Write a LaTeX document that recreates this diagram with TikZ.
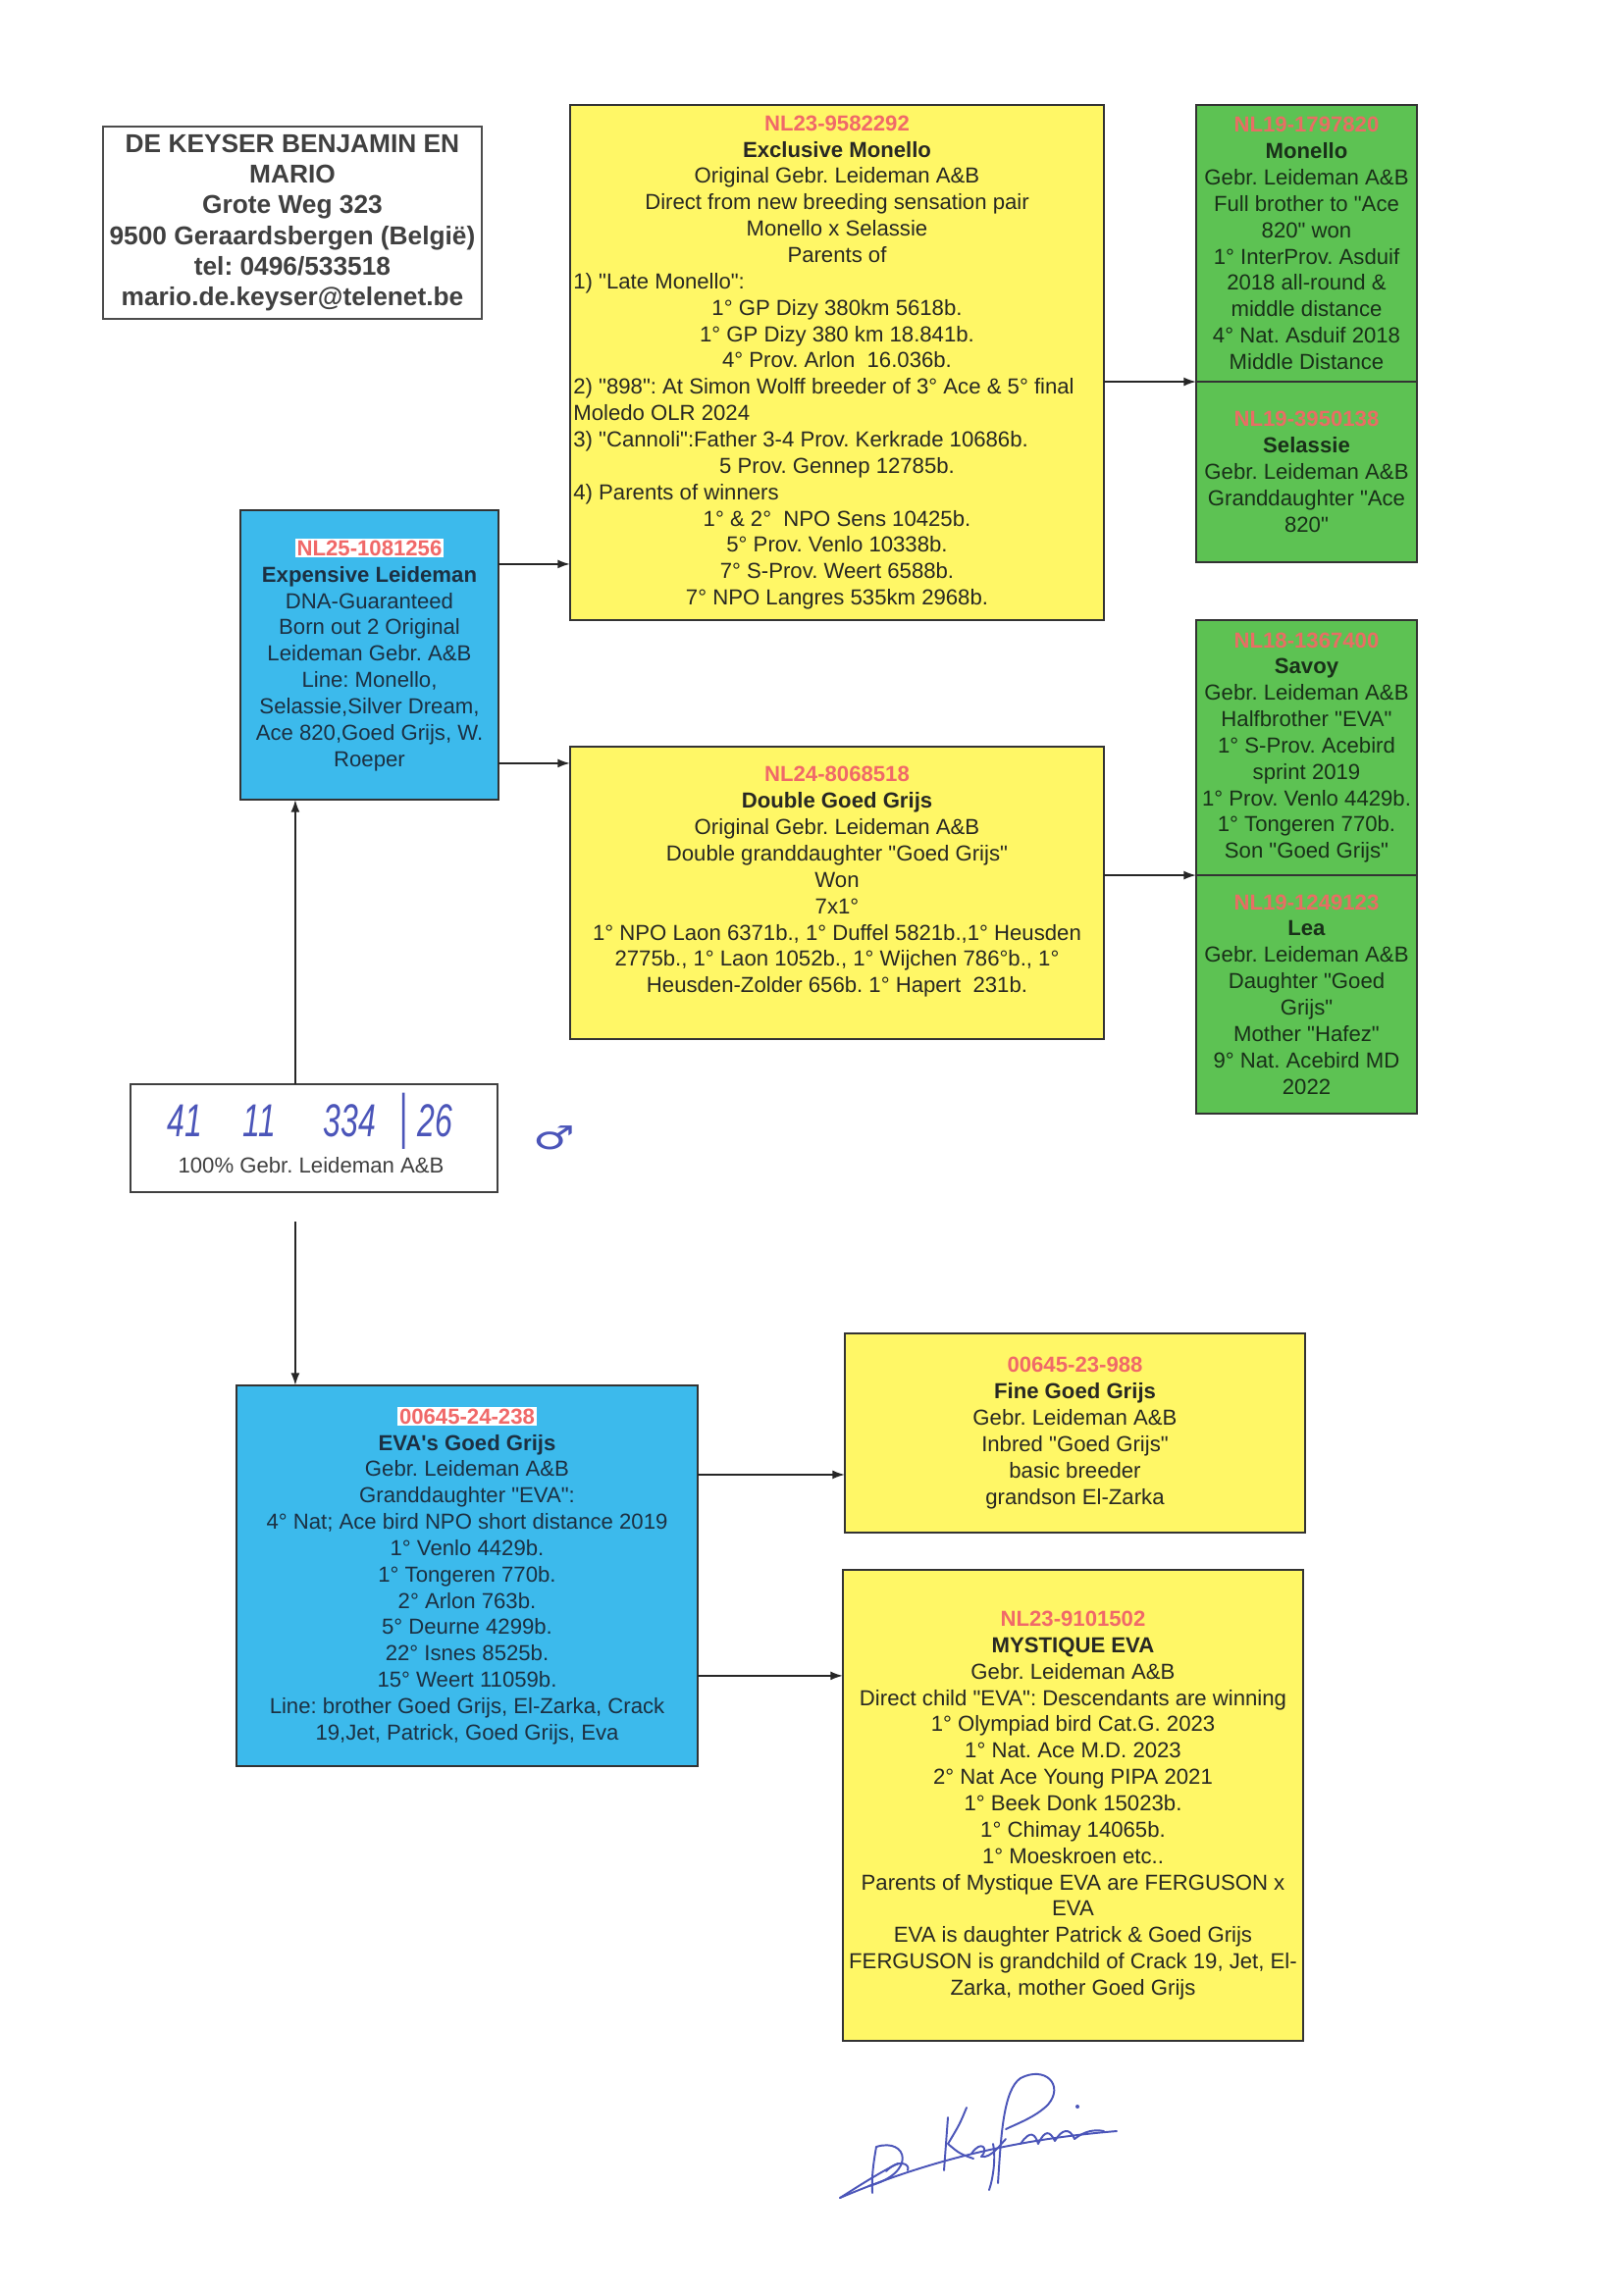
\documentclass[tikz,border=0pt]{standalone}
\usepackage{fontspec}
\setmainfont{Liberation Sans}[Ligatures=TeXOff]
\newfontfamily\dejavu{DejaVu Sans}
\usepackage{graphicx}
\usetikzlibrary{arrows.meta,calc}
\definecolor{ybox}{RGB}{255,247,102}
\definecolor{gbox}{RGB}{93,194,83}
\definecolor{bbox}{RGB}{60,186,236}
\definecolor{idred}{RGB}{240,105,105}
\definecolor{gidred}{RGB}{232,110,100}
\definecolor{txt}{RGB}{40,40,35}
\definecolor{btxt}{RGB}{28,48,66}
\definecolor{gtxt}{RGB}{25,48,25}
\definecolor{ink}{RGB}{75,85,185}
\newcommand{\lft}[1]{\makebox[6.82cm][l]{#1}}
\newcommand{\idr}[1]{\textcolor{idred}{\textbf{#1}}}
\newcommand{\idg}[1]{\textcolor{gidred}{\textbf{#1}}}
\newcommand{\idw}[1]{{\setlength{\fboxsep}{0.6pt}\colorbox{white}{\textcolor{idred}{\textbf{#1}}}}}
\frenchspacing
\begin{document}
\begin{tikzpicture}[x=0.0127cm,y=-0.0127cm,
  box/.style={draw=black!80, line width=0.6pt, inner sep=1pt, outer sep=0pt,
    align=center, text=txt, font=\fontsize{8}{9.7}\selectfont},
  ybx/.style={box, fill=ybox},
  gbx/.style={box, fill=gbox, text=gtxt},
  bbx/.style={box, fill=bbox, text=btxt},
  arr/.style={draw=black!85, line width=0.6pt, -{Latex[length=4.5pt,width=3.2pt]}},
  sig/.style={draw=ink, line width=0.7pt, line cap=round, line join=round}]
\fill[white] (0,0) rectangle (1654,2337);
\useasboundingbox (0,0) rectangle (1654,2337);

% address
\node[box, fill=white, draw=black!70, text=black!75,
  minimum width=4.902cm, minimum height=2.489cm,
  font=\bfseries\fontsize{9.5}{11.3}\selectfont] (addr) at (298,227)
  {DE KEYSER BENJAMIN EN\\MARIO\\Grote Weg 323\\9500 Geraardsbergen (België)\\tel: 0496/533518\\mario.de.keyser@telenet.be};

% Exclusive Monello
\node[ybx, minimum width=6.909cm, minimum height=6.668cm] (Y1) at (853,369.5)
  {\idr{NL23-9582292}\\
   \textbf{Exclusive Monello}\\
   Original Gebr. Leideman A\&B\\
   Direct from new breeding sensation pair\\
   Monello x Selassie\\
   Parents of\\
   \lft{1) "Late Monello":}\\
   1° GP Dizy 380km 5618b.\\
   1° GP Dizy 380 km 18.841b.\\
   4° Prov. Arlon\ \ 16.036b.\\
   \lft{2) "898": At Simon Wolff breeder of 3° Ace \& 5° final}\\
   \lft{Moledo OLR 2024}\\
   \lft{3) "Cannoli":Father 3-4 Prov. Kerkrade 10686b.}\\
   5 Prov. Gennep 12785b.\\
   \lft{4) Parents of winners}\\
   1° \& 2°\ \ NPO Sens 10425b.\\
   5° Prov. Venlo 10338b.\\
   7° S-Prov. Weert 6588b.\\
   7° NPO Langres 535km 2968b.};

% Monello / Selassie
\node[gbx, minimum width=2.858cm, minimum height=3.581cm] (G1) at (1331.5,248)
  {\idg{NL19-1797820}\\\textbf{Monello}\\Gebr. Leideman A\&B\\Full brother to "Ace\\820" won\\1° InterProv. Asduif\\2018 all-round \&\\middle distance\\4° Nat. Asduif 2018\\Middle Distance};
\node[gbx, minimum width=2.858cm, minimum height=2.337cm] (G2) at (1331.5,481)
  {\idg{NL19-3950138}\\\textbf{Selassie}\\Gebr. Leideman A\&B\\Granddaughter "Ace\\820"};

% Expensive Leideman
\node[bbx, minimum width=3.340cm, minimum height=3.747cm] (B1) at (376.5,667.5)
  {\idw{NL25-1081256}\\\textbf{Expensive Leideman}\\DNA-Guaranteed\\Born out 2 Original\\Leideman Gebr. A\&B\\Line: Monello,\\Selassie,Silver Dream,\\Ace 820,Goed Grijs, W.\\Roeper};

% Double Goed Grijs
\node[ybx, minimum width=6.909cm, minimum height=3.785cm] (Y2) at (853,910)
  {\idr{NL24-8068518}\\\textbf{Double Goed Grijs}\\Original Gebr. Leideman A\&B\\Double granddaughter "Goed Grijs"\\Won\\7x1°\\1° NPO Laon 6371b., 1° Duffel 5821b.,1° Heusden\\2775b., 1° Laon 1052b., 1° Wijchen 786°b., 1°\\Heusden-Zolder 656b. 1° Hapert\ \ 231b.\\\mbox{}};

% Savoy / Lea
\node[gbx, minimum width=2.858cm, minimum height=3.302cm] (G3) at (1331.5,762)
  {\idg{NL18-1367400}\\\textbf{Savoy}\\Gebr. Leideman A\&B\\Halfbrother "EVA"\\1° S-Prov. Acebird\\sprint 2019\\1° Prov. Venlo 4429b.\\1° Tongeren 770b.\\Son "Goed Grijs"};
\node[gbx, minimum width=2.858cm, minimum height=3.086cm] (G4) at (1331.5,1013.5)
  {\idg{NL19-1249123}\\\textbf{Lea}\\Gebr. Leideman A\&B\\Daughter "Goed\\Grijs"\\Mother "Hafez"\\9° Nat. Acebird MD\\2022};

% ring box
\node[draw=black!75, line width=0.6pt, fill=white, minimum width=4.750cm, minimum height=1.397cm, inner sep=0pt, outer sep=0pt] (W) at (320,1160) {};
\node[text=ink, inner sep=0pt] (hw) at (316,1143)
  {\scalebox{0.68}[1]{\fontsize{17}{17}\selectfont\itshape 41\hspace{22pt}11\hspace{26pt}334\hspace{13pt}{\upshape\scalebox{1}[1.3]{|}}\hspace{5pt}26}};
\node[text=black!75, inner sep=0pt, font=\fontsize{8}{9.7}\selectfont] (wtx) at (317,1188) {100\% Gebr. Leideman A\&B};
\node[text=ink, inner sep=0pt, font=\dejavu\fontsize{15}{15}\selectfont] (male) at (565,1160) {\scalebox{1.15}[0.8]{♂}};

% EVA's Goed Grijs
\node[bbx, minimum width=5.969cm, minimum height=4.928cm] (B2) at (476,1606)
  {\idw{00645-24-238}\\\textbf{EVA's Goed Grijs}\\Gebr. Leideman A\&B\\Granddaughter "EVA":\\4° Nat; Ace bird NPO short distance 2019\\1° Venlo 4429b.\\1° Tongeren 770b.\\2° Arlon 763b.\\5° Deurne 4299b.\\22° Isnes 8525b.\\15° Weert 11059b.\\Line: brother Goed Grijs, El-Zarka, Crack\\19,Jet, Patrick, Goed Grijs, Eva};

% Fine Goed Grijs
\node[ybx, minimum width=5.956cm, minimum height=2.578cm] (Y3) at (1095.5,1460.5)
  {\idr{00645-23-988}\\\textbf{Fine Goed Grijs}\\Gebr. Leideman A\&B\\Inbred "Goed Grijs"\\basic breeder\\grandson El-Zarka};

% Mystique EVA
\node[ybx, minimum width=5.956cm, minimum height=6.096cm] (Y4) at (1093.5,1840)
  {\idr{NL23-9101502}\\\textbf{MYSTIQUE EVA}\\Gebr. Leideman A\&B\\Direct child "EVA": Descendants are winning\\1° Olympiad bird Cat.G. 2023\\1° Nat. Ace M.D. 2023\\2° Nat Ace Young PIPA 2021\\1° Beek Donk 15023b.\\1° Chimay 14065b.\\1° Moeskroen etc..\\Parents of Mystique EVA are FERGUSON x\\EVA\\EVA is daughter Patrick \& Goed Grijs\\FERGUSON is grandchild of Crack 19, Jet, El-\\Zarka, mother Goed Grijs};

% connectors
\coordinate (p1) at ($(B1.north east)+(0,55)$);
\draw[arr] (p1) -- (p1 -| Y1.west);
\coordinate (p2) at ($(Y2.north west)+(0,17)$);
\draw[arr] (p2 -| B1.east) -- (p2);
\draw[arr] (G1.south west -| Y1.east) -- (G1.south west);
\draw[arr] (G3.south west -| Y2.east) -- (G3.south west);
\coordinate (p3) at ($(W.north west)+(168,0)$);
\draw[arr] (p3) -- (p3 |- B1.south);
\coordinate (p4) at ($(W.south west)+(168,30)$);
\draw[arr] (p4) -- (p4 |- B2.north);
\coordinate (p5) at ($(Y3.north west)+(0,144)$);
\draw[arr] (p5 -| B2.east) -- (p5);
\coordinate (p6) at ($(Y4.north west)+(0,108)$);
\draw[arr] (p6 -| B2.east) -- (p6);

% signature
\draw[sig] (856,2240) .. controls (950,2200) and (1040,2180) .. (1138,2172);
\draw[sig] (856,2240) .. controls (875,2228) and (895,2215) .. (915,2205);
\draw[sig] (893,2188) .. controls (890,2205) and (888,2220) .. (889,2235);
\draw[sig] (893,2188) .. controls (925,2178) and (935,2215) .. (885,2228);
\draw[sig] (903,2213) .. controls (915,2200) and (928,2205) .. (925,2212);
\draw[sig] (966,2158) -- (962,2212);
\draw[sig] (985,2148) .. controls (978,2165) .. (966,2185) .. controls (978,2195) .. (992,2200);
\draw[sig] (990,2195) .. controls (1000,2180) and (1008,2190) .. (1000,2198) .. controls (1010,2200) and (1020,2185) .. (1025,2180);
\draw[sig] (1012,2185) .. controls (1015,2200) and (1012,2220) .. (1008,2232);
\draw[sig] (1017,2225) .. controls (1020,2180) and (1022,2130) .. (1040,2118) .. controls (1065,2105) and (1085,2125) .. (1068,2145) .. controls (1055,2158) and (1035,2165) .. (1025,2170);
\draw[sig] (1040,2185) .. controls (1050,2170) and (1055,2175) .. (1058,2185) .. controls (1065,2170) and (1070,2172) .. (1075,2182) .. controls (1082,2170) and (1090,2168) .. (1095,2180) .. controls (1105,2172) and (1115,2170) .. (1125,2172);
\fill[ink] (1098,2147) circle (2);
\end{tikzpicture}
\end{document}
